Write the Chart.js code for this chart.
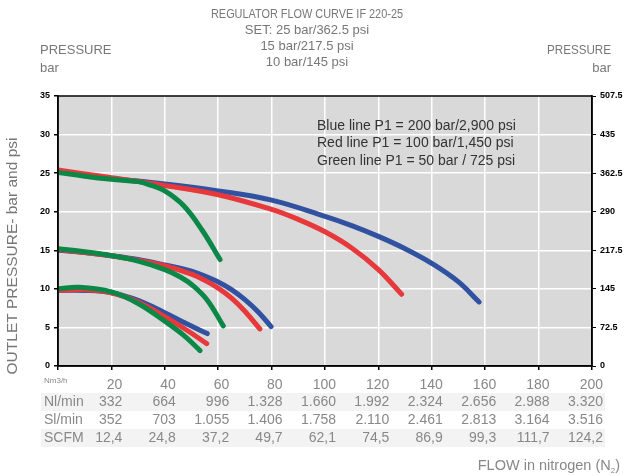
<!DOCTYPE html>
<html>
<head>
<meta charset="utf-8">
<script src="https://cdn.jsdelivr.net/npm/chart.js@4.4.0/dist/chart.umd.min.js"></script>
<style>
  html, body { margin: 0; padding: 0; background: #fff; }
  #wrap { position: relative; width: 627px; height: 475px; }
</style>
</head>
<body>
<div id="wrap"><canvas id="flowChart" width="627" height="475"></canvas></div>
<script>
// flow in Nm3/h, outlet pressure in bar
const flowBlue25  = [0, 10, 20, 40, 60, 80, 100, 110, 120, 130, 140, 150, 157.7];
const presBlue25  = [25.2, 24.7, 24.3, 23.6, 22.7, 21.5, 19.4, 18.2, 16.8, 15.2, 13.3, 10.9, 8.3];
const flowRed25   = [0, 10, 20, 40, 60, 80, 90, 100, 110, 120, 128.7];
const presRed25   = [25.4, 24.9, 24.4, 23.4, 22.2, 20.3, 19.0, 17.4, 15.3, 12.5, 9.3];
const flowGreen25 = [0, 10, 20, 30, 35, 40, 47, 54, 60.7];
const presGreen25 = [25.1, 24.6, 24.2, 23.9, 23.4, 22.7, 20.8, 17.6, 13.8];

const flowBlue15  = [0, 10, 20, 30, 40, 50, 60, 65, 70, 75, 79.8];
const presBlue15  = [15.0, 14.7, 14.3, 13.8, 13.1, 12.3, 10.9, 9.9, 8.6, 7.0, 5.1];
const flowRed15   = [0, 10, 20, 30, 40, 50, 55, 60, 65, 70, 75.6];
const presRed15   = [15.1, 14.7, 14.3, 13.7, 13.0, 11.9, 11.1, 10.1, 8.8, 7.1, 4.8];
const flowGreen15 = [0, 10, 20, 30, 40, 46, 51, 56, 61.9];
const presGreen15 = [15.2, 14.8, 14.3, 13.6, 12.5, 11.5, 10.3, 8.5, 5.2];

const flowBlue10  = [0, 10, 20, 30, 40, 48, 55.9];
const presBlue10  = [9.8, 9.8, 9.5, 8.5, 6.9, 5.5, 4.2];
const flowRed10   = [0, 10, 20, 30, 40, 48, 55.7];
const presRed10   = [9.8, 9.9, 9.5, 8.3, 6.4, 4.7, 2.9];
const flowGreen10 = [0, 8, 20, 30, 40, 47, 53.2];
const presGreen10 = [10.0, 10.2, 9.6, 8.1, 5.8, 4.0, 2.0];

// table under the chart
const flowTicks = [20, 40, 60, 80, 100, 120, 140, 160, 180, 200];
const nlMin = ['332', '664', '996', '1.328', '1.660', '1.992', '2.324', '2.656', '2.988', '3.320'];
const slMin = ['352', '703', '1.055', '1.406', '1.758', '2.110', '2.461', '2.813', '3.164', '3.516'];
const scfm  = ['12,4', '24,8', '37,2', '49,7', '62,1', '74,5', '86,9', '99,3', '111,7', '124,2'];
const psiTicks = ['0', '72.5', '145', '217.5', '290', '362.5', '435', '507.5'];

const titleLines = ['REGULATOR FLOW CURVE IF 220-25', 'SET: 25 bar/362.5 psi', '15 bar/217.5 psi', '10 bar/145 psi'];
const noteLines = ['Blue line P1 = 200 bar/2,900 psi', 'Red line P1 = 100 bar/1,450 psi', 'Green line P1 = 50 bar / 725 psi'];

const BLUE = '#3151a1', RED = '#e7383c', GREEN = '#0b8848';
const FONT = '"Liberation Sans", Arial, sans-serif';

function pts(xs, ys) { return xs.map((x, i) => ({ x: x, y: ys[i] })); }
function line(xs, ys, color) {
    return {
        data: pts(xs, ys),
        borderColor: color,
        borderWidth: 5,
        borderCapStyle: 'round',
        pointRadius: 0,
        tension: 0.4,
        fill: false
    };
}

//first dataset is drawn on top -> green, then red, then blue
const datasets = [
    line(flowGreen25, presGreen25, GREEN), line(flowGreen15, presGreen15, GREEN), line(flowGreen10, presGreen10, GREEN),
    line(flowRed25, presRed25, RED), line(flowRed15, presRed15, RED), line(flowRed10, presRed10, RED),
    line(flowBlue25, presBlue25, BLUE), line(flowBlue15, presBlue15, BLUE), line(flowBlue10, presBlue10, BLUE)
];

const plotBack = {
    id: 'plotBack',
    beforeDraw(chart) {
        const { ctx, chartArea: a } = chart;
        ctx.save();
        ctx.fillStyle = '#d9d9d9';
        ctx.fillRect(a.left, a.top, a.right - a.left, a.bottom - a.top);
        ctx.restore();
    }
};

const decorations = {
    id: 'decorations',
    afterDraw(chart) {
        const { ctx, chartArea: a } = chart;
        const xs = chart.scales.x;
        ctx.save();
        // frame
        ctx.strokeStyle = '#000';
        ctx.lineWidth = 1.5;
        ctx.strokeRect(a.left, a.top, a.right - a.left, a.bottom - a.top);

        // title
        ctx.fillStyle = '#777';
        ctx.textAlign = 'center';
        ctx.textBaseline = 'middle';
        ctx.font = '13px ' + FONT;
        ctx.fillText(titleLines[0], 307, 14, 192);
        for (let i = 1; i < titleLines.length; i++) ctx.fillText(titleLines[i], 307, 14 + i * 16);

        // axis headers
        ctx.textAlign = 'left';
        ctx.fillText('PRESSURE', 40, 50);
        ctx.fillText('bar', 40, 68);
        ctx.textAlign = 'right';
        ctx.fillText('PRESSURE', 611, 50, 64);
        ctx.fillText('bar', 611, 68);

        // vertical axis title
        ctx.save();
        ctx.translate(13, 256);
        ctx.rotate(-Math.PI / 2);
        ctx.textAlign = 'center';
        ctx.font = '15.5px ' + FONT;
        ctx.fillText('OUTLET PRESSURE- bar and psi', 0, 0, 254);
        ctx.restore();

        // note inside plot
        ctx.fillStyle = '#333';
        ctx.textAlign = 'left';
        ctx.font = '14px ' + FONT;
        noteLines.forEach((t, i) => ctx.fillText(t, 317, 126 + i * 17.5));

        // table rows
        ctx.fillStyle = '#f3f3f3';
        ctx.fillRect(41, 393, 564, 18);
        ctx.fillRect(41, 429, 564, 18);

        ctx.fillStyle = '#888';
        ctx.font = '8px ' + FONT;
        ctx.textAlign = 'left';
        ctx.fillText('Nm3/h', 44, 381);
        ctx.font = '14px ' + FONT;
        ctx.fillText('Nl/min', 44, 402);
        ctx.fillText('Sl/min', 44, 420);
        ctx.fillText('SCFM', 44, 438);

        ctx.textAlign = 'right';
        flowTicks.forEach((f, i) => {
            const px = xs.getPixelForValue(f) + 11;
            ctx.fillText(String(f), px, 385);
            ctx.fillText(nlMin[i], px, 402);
            ctx.fillText(slMin[i], px, 420);
            ctx.fillText(scfm[i], px, 438);
        });

        // flow caption with subscript
        ctx.textAlign = 'left';
        const cap = 'FLOW in nitrogen (N';
        ctx.font = '14.5px ' + FONT;
        const w1 = ctx.measureText(cap).width;
        ctx.font = '8px ' + FONT;
        const w2 = ctx.measureText('2').width;
        ctx.font = '14.5px ' + FONT;
        const w3 = ctx.measureText(')').width;
        let x0 = 620 - (w1 + w2 + w3);
        ctx.fillText(cap, x0, 466);
        ctx.font = '8px ' + FONT;
        ctx.fillText('2', x0 + w1, 471);
        ctx.font = '14.5px ' + FONT;
        ctx.fillText(')', x0 + w1 + w2, 466);
        ctx.restore();
    }
};

new Chart(document.getElementById('flowChart').getContext('2d'), {
    type: 'line',
    data: { datasets: datasets },
    options: {
        responsive: false,
        animation: false,
        layout: { padding: { left: 0, right: 0, top: 96, bottom: 0 } },
        plugins: { legend: { display: false }, tooltip: { enabled: false } },
        scales: {
            x: {
                type: 'linear', min: 0, max: 200,
                ticks: { display: false, stepSize: 20 },
                grid: { color: '#ffffff', lineWidth: 1.5, tickColor: '#000', tickLength: 4 },
                border: { color: '#000', width: 1.5 },
                afterFit(s) { s.height = 109; }
            },
            y: {
                position: 'left', min: 0, max: 35,
                ticks: { stepSize: 5, color: '#000', font: { family: FONT, size: 9, weight: 'bold' }, padding: 4 },
                grid: { color: '#ffffff', lineWidth: 1.5, tickColor: '#000', tickLength: 4 },
                border: { color: '#000', width: 1.5 },
                afterFit(s) { s.width = 58; }
            },
            y2: {
                position: 'right', min: 0, max: 507.5,
                afterBuildTicks(s) { s.ticks = psiTicks.map(t => ({ value: Number(t) })); },
                ticks: {
                    color: '#000', font: { family: FONT, size: 9, weight: 'bold' }, padding: 4,
                    callback: (v, i) => psiTicks[i]
                },
                grid: { drawOnChartArea: false, tickColor: '#000', tickLength: 4 },
                border: { color: '#000', width: 1.5 },
                afterFit(s) { s.width = 35; }
            }
        }
    },
    plugins: [plotBack, decorations]
});
</script>
</body>
</html>
